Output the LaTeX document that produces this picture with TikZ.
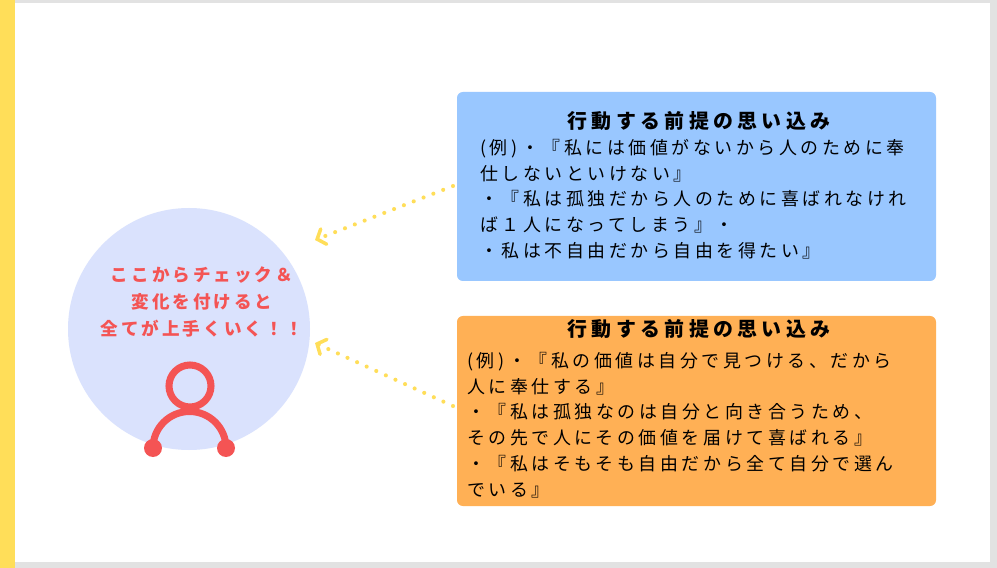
\documentclass[tikz,border=0pt]{standalone}
\usepackage{fontspec}
\setmainfont{Noto Sans CJK JP}[LetterSpace=10]
\usetikzlibrary{arrows.meta}
\definecolor{sideyellow}{RGB}{255,222,89}
\definecolor{circleblue}{RGB}{218,226,253}
\definecolor{iconred}{RGB}{244,84,84}
\definecolor{boxblue}{RGB}{153,199,255}
\definecolor{boxorange}{RGB}{255,176,85}
\definecolor{framegray}{RGB}{226,226,226}
\tikzset{
  box/.style={fill=#1, rounded corners=5pt, draw=none},
  boxtitle/.style={font=\fontsize{17}{20}\selectfont\bfseries\addfontfeatures{LetterSpace=22}, anchor=center},
  boxtext/.style={font=\fontsize{15.3}{22}\selectfont\addfontfeatures{LetterSpace=20}, align=left, anchor=north west, inner sep=0pt},
  dotarrow/.style={sideyellow, line width=3.5pt, dash pattern=on 0pt off 9pt, line cap=round,
    -{Straight Barb[length=6pt,width=14pt,line width=3pt,line cap=round]}}
}
\begin{document}
\begin{tikzpicture}[x=0.03cm, y=-0.03cm]
  \useasboundingbox (0,0) rectangle (997,568);
  \fill[framegray] (0,0) rectangle (997,568);
  \fill[white] (15,3) rectangle (990,562);
  \fill[sideyellow] (0,0) rectangle (15,568);

  % left circle
  \fill[circleblue] (189,329) circle (121);
  \node[text=iconred, font=\fontsize{15}{23}\selectfont\bfseries\addfontfeatures{LetterSpace=17}, align=center] (msg) at (202,302)
    {ここからチェック＆\\変化を付けると\\全てが上手くいく！！};
  \draw[iconred, line width=6pt] (190,386) circle (21);
  \draw[iconred, line width=6pt] (153,448) arc[start angle=180, end angle=360, radius=36.5];
  \fill[iconred] (153,448) circle (9);
  \fill[iconred] (226,448) circle (9);
  \coordinate (tgtA) at (315,240);
  \coordinate (tgtB) at (315,343);

  % upper box
  \fill[box=boxblue] (457,92) rectangle (936,281);
  \node[boxtitle] (titleA) at (699,121) {行動する前提の思い込み};
  \node[boxtext] (textA) at (480,139) {(例)・『私には価値がないから人のために奉\\仕しないといけない』\\・『私は孤独だから人のために喜ばれなけれ\\ば１人になってしまう』・\\・私は不自由だから自由を得たい』};
  \coordinate (srcA) at (453,186);

  % lower box
  \fill[box=boxorange] (457,316) rectangle (936,506);
  \node[boxtitle] (titleB) at (699,329) {行動する前提の思い込み};
  \node[boxtext] (textB) at (467,352) {(例)・『私の価値は自分で見つける、だから\\人に奉仕する』\\・『私は孤独なのは自分と向き合うため、\\その先で人にその価値を届けて喜ばれる』\\・『私はそもそも自由だから全て自分で選ん\\でいる』};
  \coordinate (srcB) at (453,406);

  \draw[dotarrow] (srcA) -- (tgtA);
  \draw[dotarrow] (srcB) -- (tgtB);
\end{tikzpicture}
\end{document}
